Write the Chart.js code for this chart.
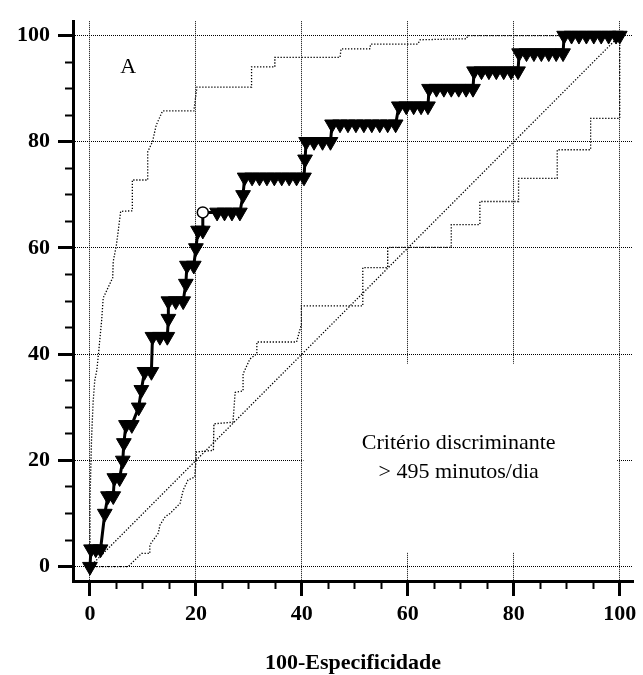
<!DOCTYPE html>
<html>
<head>
<meta charset="utf-8">
<title>Curva ROC</title>
<script src="https://cdn.jsdelivr.net/npm/chart.js@4.4.1/dist/chart.umd.min.js"></script>
<style>
  html, body { margin: 0; padding: 0; background: #fff; }
  #wrap { position: relative; width: 643px; height: 675px; }
</style>
</head>
<body>
<div id="wrap"><canvas id="roc"></canvas></div>
<script>
"use strict";

// ROC curve: 100-specificity (x) vs sensitivity (y)
const rocX = [0,
  0.2, 1.1, 2.0,
  2.8,
  3.4, 4.4,
  4.6, 5.6,
  6.2,
  6.4,
  6.8, 7.9,
  9.2,
  9.7,
  10.3, 11.6,
  11.8, 13.2, 14.6,
  14.8,
  14.8, 16.2, 17.6,
  18.1,
  18.3, 19.6,
  20.0,
  20.4, 21.3,
  21.3, 24.0, 25.4, 26.8, 28.3,
  28.9,
  29.2, 30.6, 32.0, 33.4, 34.8, 36.2, 37.6, 39.0, 40.4,
  40.6,
  40.8, 42.3, 43.9, 45.4,
  45.7, 47.2, 48.7, 50.2, 51.7, 53.2, 54.7, 56.2, 57.7,
  58.3, 59.7, 61.1, 62.5, 63.8,
  64.0, 65.4, 66.8, 68.2, 69.6, 71.0, 72.3,
  72.5, 73.9, 75.3, 76.7, 78.1, 79.5, 80.8,
  81.0, 82.4, 83.8, 85.2, 86.6, 88.0, 89.3,
  89.5, 90.9, 92.3, 93.7, 95.1, 96.5, 97.9, 99.3, 100];
const rocY = [0,
  3.3, 3.3, 3.3,
  10,
  13.3, 13.3,
  16.7, 16.7,
  20,
  23.3,
  26.7, 26.7,
  30,
  33.3,
  36.7, 36.7,
  43.3, 43.3, 43.3,
  46.7,
  50, 50, 50,
  53.3,
  56.7, 56.7,
  60,
  63.3, 63.3,
  66.7, 66.7, 66.7, 66.7, 66.7,
  70,
  73.3, 73.3, 73.3, 73.3, 73.3, 73.3, 73.3, 73.3, 73.3,
  76.7,
  80, 80, 80, 80,
  83.3, 83.3, 83.3, 83.3, 83.3, 83.3, 83.3, 83.3, 83.3,
  86.7, 86.7, 86.7, 86.7, 86.7,
  90, 90, 90, 90, 90, 90, 90,
  93.3, 93.3, 93.3, 93.3, 93.3, 93.3, 93.3,
  96.7, 96.7, 96.7, 96.7, 96.7, 96.7, 96.7,
  100, 100, 100, 100, 100, 100, 100, 100, 100];

// optimal criterion point (white circle)
const cutX = 21.3, cutY = 66.7;

// confidence bounds (stair corners)
const upperX = [0, 0, 0.3, 0.6, 0.9, 1.3, 1.6, 2.2, 2.5, 4.3, 4.4, 5.0, 5.8, 8.0, 8.0, 10.9, 10.9, 11.8,
  12.5, 13.7, 19.6, 20.2, 30.5, 30.5, 34.9, 34.9, 47.2, 47.4, 52.8, 53.0, 61.9, 62.3, 71.1, 71.3, 100];
const upperY = [0, 12, 24, 31, 35, 37, 40, 46.3, 50.6, 54.4, 57.5, 60.6, 66.9, 67.0, 72.8, 72.8, 78.1, 80,
  83.1, 85.8, 85.8, 90.3, 90.3, 94.1, 94.1, 95.9, 95.9, 97.5, 97.5, 98.4, 98.4, 99.2, 99.4, 100, 100];
const lowerX = [0, 7.2, 9.75, 11.3, 11.3, 12.9, 13.2, 14.2, 15.1, 17.0, 17.6, 18.5, 19.8, 20.1, 23.3, 23.4,
  27.0, 27.4, 28.9, 28.9, 30.2, 31.5, 31.5, 39.0, 39.9, 39.9, 51.5, 51.5, 56.2, 56.2, 68.2, 68.2, 73.6,
  73.6, 80.9, 80.9, 88.2, 88.2, 94.5, 94.5, 100, 100];
const lowerY = [0, 0, 2.5, 2.5, 4.1, 6.3, 7.8, 9.4, 10.0, 11.9, 14.4, 16.3, 16.9, 21.6, 21.9, 26.9,
  27.2, 32.8, 33.1, 36.3, 39.1, 40.1, 42.3, 42.3, 45.6, 49.1, 49.1, 56.3, 56.3, 60.1, 60.1, 64.4, 64.4,
  68.75, 68.75, 73.1, 73.1, 78.5, 78.5, 84.4, 84.4, 100];

// chance line
const diagX = [0, 100];
const diagY = [0, 100];

const X_MIN = -3.2, X_MAX = 102.5;
const Y_MIN = -2.7, Y_MAX = 102.7;
const MAJOR_STEP = 20, MINOR_STEP = 5;

const xTitle = "100-Especificidade";
const panelLabel = "A";
const noteLines = ["Critério discriminante", "> 495 minutos/dia"];

const FONT = '"Liberation Serif", "Times New Roman", serif';
const INK = "#000";
const GRID_DOTS = [1, 1];
const LINE_DOTS = [1.3, 1.7];

function pts(xs, ys) {
  return xs.map((x, i) => ({ x: x, y: ys[i] }));
}

const cutIdx = rocX.findIndex((x, i) => x === cutX && rocY[i] === cutY);
const isCut = (ctx) => ctx.dataIndex === cutIdx;

// white page + note box (box hides the grid under the text), text labels
const notePlugin = {
  id: "note",
  beforeDraw(chart) {
    const c = chart.ctx;
    c.save();
    c.fillStyle = "#fff";
    c.fillRect(0, 0, chart.width, chart.height);
    c.restore();
  },
  beforeDatasetsDraw(chart) {
    const { ctx: c, scales: { x, y } } = chart;
    c.save();
    const l = x.getPixelForValue(40.3), r = x.getPixelForValue(99.5);
    const t = y.getPixelForValue(38.2), b = y.getPixelForValue(2.7);
    c.fillStyle = "#fff";
    c.fillRect(l, t, r - l, b - t);

    c.fillStyle = INK;
    c.font = "22px " + FONT;
    c.textAlign = "center";
    c.textBaseline = "middle";
    c.fillText(noteLines[0], x.getPixelForValue(69.6), y.getPixelForValue(23.2));
    c.fillText(noteLines[1], x.getPixelForValue(69.6), y.getPixelForValue(17.8));
    c.fillText(panelLabel, x.getPixelForValue(7.2), y.getPixelForValue(94));
    c.restore();
  },
};

const tickFont = { family: FONT, size: 22, weight: "bold" };

function dottedLine(label, data, order) {
  return {
    label: label,
    data: data,
    showLine: true,
    borderColor: INK,
    borderWidth: 1.3,
    borderDash: LINE_DOTS,
    pointRadius: 0,
    order: order,
  };
}

new Chart(document.getElementById("roc").getContext("2d"), {
  type: "scatter",
  data: {
    datasets: [
      dottedLine("Diagonal", pts(diagX, diagY), 4),
      dottedLine("IC superior", pts(upperX, upperY), 3),
      dottedLine("IC inferior", pts(lowerX, lowerY), 3),
      {
        label: "ROC",
        data: pts(rocX, rocY),
        showLine: true,
        borderColor: INK,
        borderWidth: 3,
        pointStyle: (ctx) => (isCut(ctx) ? "circle" : "triangle"),
        pointRotation: 180,
        pointRadius: (ctx) => (isCut(ctx) ? 5.5 : 8.5),
        pointBackgroundColor: (ctx) => (isCut(ctx) ? "#fff" : INK),
        pointBorderColor: INK,
        pointBorderWidth: (ctx) => (isCut(ctx) ? 1.5 : 1),
        order: 1,
      },
    ],
  },
  options: {
    responsive: true,
    maintainAspectRatio: false,
    animation: false,
    layout: { padding: { left: 0, top: 19, right: 10, bottom: 0 } },
    plugins: {
      legend: { display: false },
      tooltip: { enabled: false },
    },
    scales: {
      x: {
        type: "linear",
        position: "bottom",
        min: X_MIN,
        max: X_MAX,
        afterFit: (s) => { s.height = 94; },
        ticks: {
          stepSize: MAJOR_STEP,
          includeBounds: false,
          autoSkip: false,
          maxRotation: 0,
          padding: 5,
          color: INK,
          font: tickFont,
        },
        grid: { color: INK, lineWidth: 1, tickLength: 15, tickWidth: 3, tickColor: INK },
        border: { display: true, color: INK, width: 3, dash: GRID_DOTS },
        title: { display: true, text: xTitle, color: INK, font: tickFont, padding: { top: 0, bottom: -2 } },
      },
      xMinor: {
        type: "linear",
        axis: "x",
        position: { y: Y_MIN },
        min: X_MIN,
        max: X_MAX,
        ticks: { stepSize: MINOR_STEP, includeBounds: false, autoSkip: false, display: false },
        grid: { drawOnChartArea: false, tickLength: 8, tickWidth: 2, tickColor: INK },
        border: { display: false },
      },
      y: {
        type: "linear",
        position: "left",
        min: Y_MIN,
        max: Y_MAX,
        afterFit: (s) => { s.width = 73; },
        ticks: {
          stepSize: MAJOR_STEP,
          includeBounds: false,
          autoSkip: false,
          padding: 8,
          color: INK,
          font: tickFont,
        },
        grid: { color: INK, lineWidth: 1, tickLength: 15, tickWidth: 3, tickColor: INK },
        border: { display: true, color: INK, width: 3, dash: GRID_DOTS },
      },
      yMinor: {
        type: "linear",
        axis: "y",
        position: { x: X_MIN },
        min: Y_MIN,
        max: Y_MAX,
        ticks: { stepSize: MINOR_STEP, includeBounds: false, autoSkip: false, display: false },
        grid: { drawOnChartArea: false, tickLength: 8, tickWidth: 2, tickColor: INK },
        border: { display: false },
      },
    },
  },
  plugins: [notePlugin],
});
</script>
</body>
</html>
